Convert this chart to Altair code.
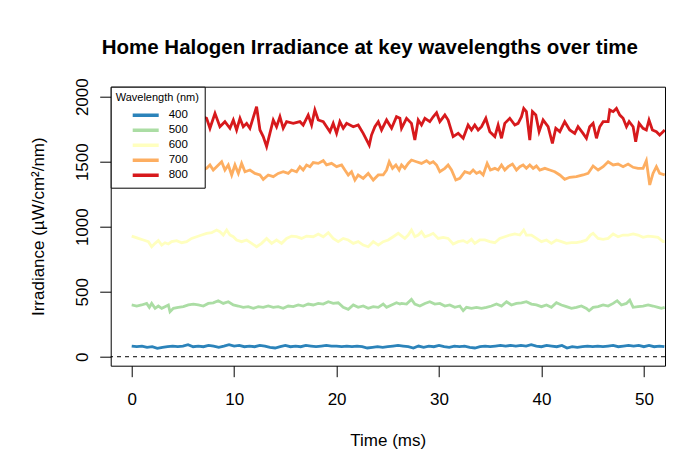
import altair as alt
import pandas as pd

# ---------------- data ----------------
wavelengths = ["400", "500", "600", "700", "800"]
colors = ["#2b83ba", "#abdda4", "#ffffbf", "#fdae61", "#d7191c"]

x_ticks = [0, 10, 20, 30, 40, 50]
y_ticks = [0, 500, 1000, 1500, 2000]

# 400 nm, sampled every 0.5 ms from 0 to 52 ms
blue_step = 0.5
blue_400 = [82, 77, 82, 72, 77, 64, 72, 77, 82, 77, 82, 93, 77, 82, 77, 87, 82, 72, 82, 93,
            82, 87, 77, 82, 77, 87, 82, 72, 67, 77, 87, 77, 82, 77, 87, 82, 77, 82, 87, 82,
            82, 77, 82, 77, 82, 77, 67, 72, 77, 72, 77, 82, 87, 82,
            77, 67, 82, 72, 82, 77, 87, 77, 72, 82, 77, 82, 72, 67, 77, 82, 77, 82, 87, 82,
            87, 82, 87, 82, 93, 82, 77, 87, 82, 77, 87, 67, 77, 72, 77, 82, 77, 82, 77, 82,
            87, 77, 82, 87, 82, 87, 77, 87, 77, 82, 77]

# (time ms, irradiance)
green_500 = [(0.00, 398), (0.49, 390), (0.97, 398), (1.46, 410), (1.72, 380), (1.95, 410), (2.28, 372),
             (2.60, 390), (2.93, 372), (3.25, 385), (3.58, 398), (3.74, 346), (4.07, 372), (4.55, 380),
             (5.04, 385), (5.53, 398), (6.02, 405), (6.50, 398), (6.99, 390), (7.48, 410), (7.96, 415),
             (8.45, 431), (8.94, 410), (9.43, 423), (9.92, 398), (10.41, 390), (10.89, 380), (11.38, 385),
             (11.87, 372), (12.36, 385), (12.84, 380), (13.33, 390), (13.82, 380), (14.30, 385), (14.79, 372),
             (15.28, 390), (15.77, 385), (16.26, 398), (16.74, 390), (17.23, 405), (17.72, 398), (18.21, 410),
             (18.70, 405), (19.19, 423), (19.67, 410), (20.16, 415), (20.65, 380), (21.14, 364), (21.63, 398),
             (22.11, 380), (22.60, 390), (23.09, 372), (23.58, 385), (24.07, 380), (24.55, 405), (24.88, 380),
             (25.37, 398), (25.85, 415), (26.18, 405), (26.34, 410), (26.83, 405), (27.31, 441), (27.64, 405),
             (28.13, 390), (28.62, 410), (29.10, 423), (29.59, 405), (30.08, 410), (30.57, 390), (31.05, 398),
             (31.54, 380), (32.03, 390), (32.36, 354), (32.68, 380), (33.17, 372), (33.66, 380), (34.15, 372),
             (34.63, 380), (35.12, 390), (35.61, 405), (36.10, 390), (36.59, 423), (37.07, 398), (37.56, 410),
             (38.05, 415), (38.53, 423), (39.02, 405), (39.51, 398), (40.00, 385), (40.49, 398), (40.97, 380),
             (41.46, 415), (41.95, 398), (42.44, 385), (42.93, 372), (43.41, 380), (43.90, 390), (44.39, 372),
             (44.65, 354), (45.04, 380), (45.53, 385), (46.02, 398), (46.51, 390), (47.00, 410), (47.39, 431),
             (47.81, 398), (48.29, 410), (48.62, 436), (48.95, 380), (49.43, 385), (49.92, 390), (50.41, 398),
             (50.89, 390), (51.38, 380), (51.71, 372), (52.03, 380)]

yellow_600 = [(0.00, 928), (0.65, 910), (1.14, 898), (1.63, 885), (1.95, 846), (2.28, 872), (2.60, 893),
              (2.93, 859), (3.25, 877), (3.58, 867), (3.90, 885), (4.39, 893), (4.88, 877), (5.36, 885),
              (5.85, 910), (6.34, 923), (6.83, 936), (7.31, 949), (7.80, 954), (8.29, 975), (8.61, 962),
              (8.94, 936), (9.27, 975), (9.59, 936), (9.92, 923), (10.24, 898), (10.73, 885), (11.22, 898),
              (11.71, 872), (12.19, 846), (12.68, 872), (13.17, 910), (13.66, 872), (14.14, 898), (14.63, 872),
              (15.12, 910), (15.61, 928), (16.09, 923), (16.58, 910), (17.07, 928), (17.72, 923), (18.21, 944),
              (18.70, 923), (19.19, 954), (19.67, 910), (20.16, 885), (20.65, 910), (21.14, 898), (21.63, 872),
              (22.11, 885), (22.60, 859), (23.09, 846), (23.58, 885), (24.07, 859), (24.55, 885), (25.04, 898),
              (25.53, 923), (26.02, 949), (26.66, 910), (26.99, 936), (27.31, 975), (27.64, 923), (27.97, 936),
              (28.29, 962), (28.62, 923), (29.10, 936), (29.43, 949), (29.92, 910), (30.41, 918), (30.89, 910),
              (31.38, 867), (31.87, 885), (32.36, 893), (32.75, 877), (33.17, 903), (33.49, 872), (33.98, 898),
              (34.47, 898), (34.96, 885), (35.45, 877), (35.93, 910), (36.42, 923), (36.91, 936), (37.40, 944),
              (37.89, 936), (38.27, 975), (38.53, 936), (39.02, 936), (39.51, 910), (40.00, 885), (40.49, 898),
              (40.97, 872), (41.46, 898), (41.95, 885), (42.44, 872), (42.93, 877), (43.41, 877), (43.90, 885),
              (44.39, 898), (44.78, 936), (45.04, 949), (45.53, 910), (46.02, 903), (46.51, 910), (47.00, 944),
              (47.48, 923), (47.97, 936), (48.46, 936), (48.95, 944), (49.43, 936), (49.92, 918), (50.41, 928),
              (50.89, 923), (51.38, 918), (51.87, 885), (52.03, 885)]

orange_700 = [(0.0, 1440), (0.5, 1470), (1.0, 1420), (1.5, 1460), (2.0, 1480), (2.5, 1430), (3.0, 1450),
              (3.5, 1410), (4.0, 1460), (4.5, 1440), (5.0, 1470), (5.5, 1420), (6.0, 1450), (6.5, 1480),
              (7.0, 1440), (7.31, 1449), (7.64, 1475), (7.96, 1436), (8.29, 1462), (8.78, 1500), (9.10, 1436),
              (9.43, 1475), (9.76, 1398), (10.08, 1475), (10.41, 1410), (10.73, 1487), (11.06, 1423),
              (11.54, 1436), (12.03, 1410), (12.52, 1398), (12.84, 1364), (13.33, 1398), (13.82, 1385),
              (14.30, 1410), (14.79, 1423), (15.28, 1410), (15.61, 1436), (16.09, 1423), (16.42, 1462),
              (16.74, 1436), (17.07, 1475), (17.40, 1462), (17.72, 1493), (18.21, 1487), (18.70, 1508),
              (19.02, 1475), (19.51, 1487), (20.00, 1462), (20.49, 1475), (20.81, 1436), (21.14, 1398),
              (21.46, 1423), (21.79, 1359), (22.11, 1398), (22.60, 1372), (23.09, 1410), (23.58, 1359),
              (24.07, 1398), (24.55, 1398), (24.88, 1436), (25.14, 1500), (25.46, 1449), (25.79, 1475),
              (26.11, 1436), (26.34, 1475), (26.66, 1449), (26.99, 1487), (27.31, 1513), (27.80, 1500),
              (28.29, 1487), (28.78, 1508), (29.10, 1487), (29.43, 1500), (29.76, 1475), (30.08, 1423),
              (30.57, 1449), (30.89, 1475), (31.22, 1436), (31.64, 1359), (32.03, 1372), (32.52, 1423),
              (33.01, 1410), (33.33, 1436), (33.66, 1410), (33.98, 1423), (34.31, 1398), (34.70, 1487),
              (35.02, 1436), (35.45, 1449), (35.77, 1436), (36.10, 1475), (36.42, 1436), (36.75, 1462),
              (37.17, 1482), (37.56, 1436), (37.89, 1462), (38.21, 1475), (38.53, 1449), (38.86, 1475),
              (39.19, 1449), (39.51, 1467), (39.84, 1436), (40.33, 1449), (40.81, 1436), (41.30, 1423),
              (41.79, 1398), (42.27, 1364), (42.76, 1380), (43.41, 1385), (44.06, 1398), (44.55, 1410),
              (45.04, 1467), (45.53, 1436), (46.02, 1462), (46.51, 1500), (47.00, 1475), (47.48, 1482),
              (47.97, 1462), (48.46, 1482), (48.95, 1457), (49.43, 1449), (49.92, 1449), (50.24, 1508),
              (50.57, 1321), (50.89, 1410), (51.22, 1462), (51.54, 1410), (52.03, 1398)]

red_800 = [(0.0, 1790), (0.4, 1840), (0.8, 1760), (1.2, 1810), (1.6, 1850), (2.0, 1770), (2.4, 1820),
           (2.8, 1790), (3.2, 1860), (3.6, 1750), (4.0, 1800), (4.4, 1830), (4.8, 1770), (5.2, 1840),
           (5.6, 1790), (6.0, 1810), (6.4, 1760), (6.8, 1850), (7.31, 1834), (7.64, 1757), (8.13, 1872),
           (8.61, 1769), (9.10, 1808), (9.59, 1757), (9.92, 1821), (10.24, 1744), (10.57, 1834), (10.89, 1769),
           (11.22, 1795), (11.54, 1757), (12.19, 1923), (12.52, 1744), (12.84, 1693), (13.17, 1616),
           (13.49, 1718), (13.82, 1821), (14.14, 1769), (14.47, 1846), (14.79, 1757), (15.12, 1808),
           (15.77, 1795), (16.42, 1808), (16.74, 1782), (17.23, 1859), (17.56, 1782), (17.88, 1898),
           (18.21, 1821), (18.70, 1808), (19.35, 1731), (19.67, 1795), (20.00, 1718), (20.32, 1808),
           (20.65, 1757), (20.98, 1795), (21.63, 1769), (22.11, 1782), (22.60, 1718), (23.19, 1628),
           (23.41, 1705), (23.74, 1769), (24.07, 1808), (24.39, 1744), (24.88, 1821), (25.37, 1757),
           (25.85, 1846), (26.18, 1834), (26.34, 1757), (26.83, 1834), (27.31, 1795), (27.64, 1667),
           (27.97, 1821), (28.29, 1782), (28.62, 1834), (29.10, 1808), (29.43, 1846), (29.76, 1877),
           (30.08, 1808), (30.57, 1859), (30.89, 1821), (31.38, 1693), (31.87, 1718), (32.36, 1680),
           (32.84, 1782), (33.17, 1744), (33.49, 1782), (33.82, 1744), (34.15, 1769), (34.57, 1834),
           (34.96, 1731), (35.45, 1693), (35.77, 1782), (36.10, 1680), (36.42, 1795), (36.91, 1834),
           (37.40, 1782), (37.72, 1795), (38.05, 1846), (38.27, 1910), (38.53, 1885), (38.86, 1667),
           (39.12, 1885), (39.45, 1859), (39.77, 1731), (40.16, 1821), (40.65, 1769), (41.07, 1641),
           (41.40, 1757), (41.79, 1731), (42.27, 1808), (42.76, 1744), (43.25, 1718), (43.57, 1769),
           (44.06, 1718), (44.39, 1680), (44.71, 1769), (45.04, 1795), (45.37, 1680), (45.69, 1769),
           (46.02, 1808), (46.51, 1808), (46.67, 1898), (47.00, 1885), (47.32, 1910), (47.65, 1859),
           (47.97, 1834), (48.30, 1769), (48.56, 1808), (48.95, 1769), (49.20, 1654), (49.53, 1795),
           (49.92, 1757), (50.24, 1744), (50.50, 1821), (50.83, 1744), (51.22, 1731), (51.54, 1705),
           (51.87, 1731), (52.03, 1744)]

# ---------------- long table ----------------
rows = []
for i, v in enumerate(blue_400):
    rows.append({"time": i * blue_step, "irr": v, "wl": "400"})
for wl, pts in [("500", green_500), ("600", yellow_600), ("700", orange_700), ("800", red_800)]:
    for t, v in pts:
        rows.append({"time": t, "irr": v, "wl": wl})
df = pd.DataFrame(rows)
zero_df = pd.DataFrame({"irr": [0]})

FONT = "Liberation Sans"

x_scale = alt.Scale(domain=[-2.05, 52.06], nice=False, zero=False)
y_scale = alt.Scale(domain=[-69, 2077], nice=False, zero=False)

x_axis = alt.Axis(values=x_ticks, title="Time (ms)", grid=False, domain=False, format="d",
                  tickSize=11, tickColor="black", labelColor="black", labelFontSize=17,
                  labelBaseline="alphabetic", labelPadding=28, labelFlush=False,
                  titleFontSize=17, titleFontWeight="normal", titleColor="black",
                  titleBaseline="alphabetic", titleY=80, titleX=277, titleAlign="center")
y_axis = alt.Axis(values=y_ticks, title="Irradiance (µW/cm²/nm)", grid=False, domain=False, format="d",
                  tickSize=11, tickColor="black", labelColor="black", labelFontSize=17,
                  labelAngle=270, labelAlign="center", labelBaseline="alphabetic",
                  labelPadding=12.4, labelFlush=False,
                  titleFontSize=17, titleFontWeight="normal", titleColor="black",
                  titleAngle=270, titleX=-67, titleY=139.5, titleAlign="center",
                  titleBaseline="alphabetic")

legend = alt.Legend(title="Wavelength (nm)", orient="none", legendX=0, legendY=0,
                    fillColor="white", strokeColor="black", padding=5,
                    titleFont=FONT, titleFontSize=11, titleFontWeight="normal", titleColor="black",
                    titlePadding=5, labelFont=FONT, labelFontSize=11.5, labelColor="black",
                    symbolType="stroke", symbolSize=676, symbolStrokeWidth=3.5,
                    symbolOffset=15, labelOffset=8, clipHeight=15, rowPadding=0)

lines = alt.Chart(df).mark_line(strokeWidth=2.8, clip=True).encode(
    x=alt.X("time:Q", scale=x_scale, axis=x_axis),
    y=alt.Y("irr:Q", scale=y_scale, axis=y_axis),
    color=alt.Color("wl:N", scale=alt.Scale(domain=wavelengths, range=colors), legend=legend),
    order=alt.Order("time:Q"),
)

zero_line = alt.Chart(zero_df).mark_rule(color="black", strokeWidth=1, strokeDash=[4, 4]).encode(
    y=alt.Y("irr:Q", scale=y_scale)
)

chart = alt.layer(zero_line, lines).properties(
    width=554.3,
    height=279,
    padding={"left": 102.7, "top": 78.7, "right": 10, "bottom": 95},
    autosize=alt.AutoSizeParams(type="none"),
    title=alt.TitleParams("Home Halogen Irradiance at key wavelengths over time",
                          font=FONT, fontSize=20.5, fontWeight="bold", color="black",
                          anchor="middle", dx=-18, baseline="alphabetic", offset=3),
).configure(font=FONT).configure_view(stroke="black", strokeWidth=1)

chart.save("out.html", embed_options={"renderer": "svg", "actions": False})
